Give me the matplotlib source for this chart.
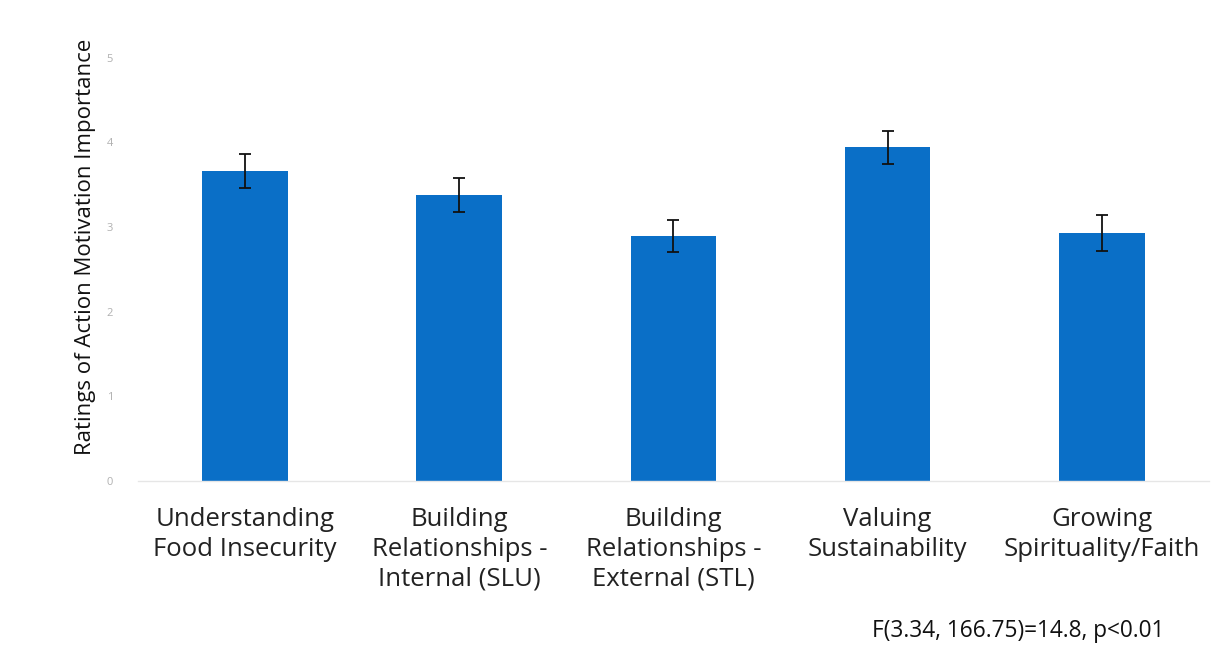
import matplotlib.pyplot as plt
import numpy as np

plt.rcParams["font.family"] = ["Open Sans", "DejaVu Sans"]

categories = [
    "Understanding\nFood Insecurity",
    "Building\nRelationships -\nInternal (SLU)",
    "Building\nRelationships -\nExternal (STL)",
    "Valuing\nSustainability",
    "Growing\nSpirituality/Faith",
]
means = [3.66, 3.38, 2.89, 3.94, 2.93]
errors = [0.20, 0.20, 0.19, 0.20, 0.21]
yticks = [0, 1, 2, 3, 4, 5]

fig = plt.figure(figsize=(12.14, 6.49), dpi=100)
ax = fig.add_axes([0.1137, 0.259, 0.882, 0.652])

x = np.arange(len(categories))
ax.bar(x, means, width=0.4, color="#0a6fc7", zorder=2)
ax.errorbar(x, means, yerr=errors, fmt="none", ecolor="#111111",
            elinewidth=1.3, capsize=4, capthick=1.3, zorder=3)

ax.set_xlim(-0.5, len(categories) - 0.5)
ax.set_ylim(0, 5)
ax.set_yticks(yticks)
ax.set_yticklabels([str(t) for t in yticks], color="#b0b0b0", fontsize=8)
ax.set_xticks(x)
ax.set_xticklabels(categories, fontsize=18.5, color="#222222", linespacing=1.25)
ax.tick_params(axis="both", length=0)
ax.tick_params(axis="y", pad=18)
ax.tick_params(axis="x", pad=19)

for s in ["top", "right", "left"]:
    ax.spines[s].set_visible(False)
ax.spines["bottom"].set_color("#e6e6e6")
ax.spines["bottom"].set_linewidth(1)

ax.set_ylabel("Ratings of Action Motivation Importance", fontsize=16,
              color="#111111")
ax.yaxis.set_label_coords(-0.039, 0.553)

fig.text(0.718, 0.010, "F(3.34, 166.75)=14.8, p<0.01", fontsize=16.3,
         color="#111111", ha="left", va="bottom")

fig.savefig("out.png", dpi=100)
